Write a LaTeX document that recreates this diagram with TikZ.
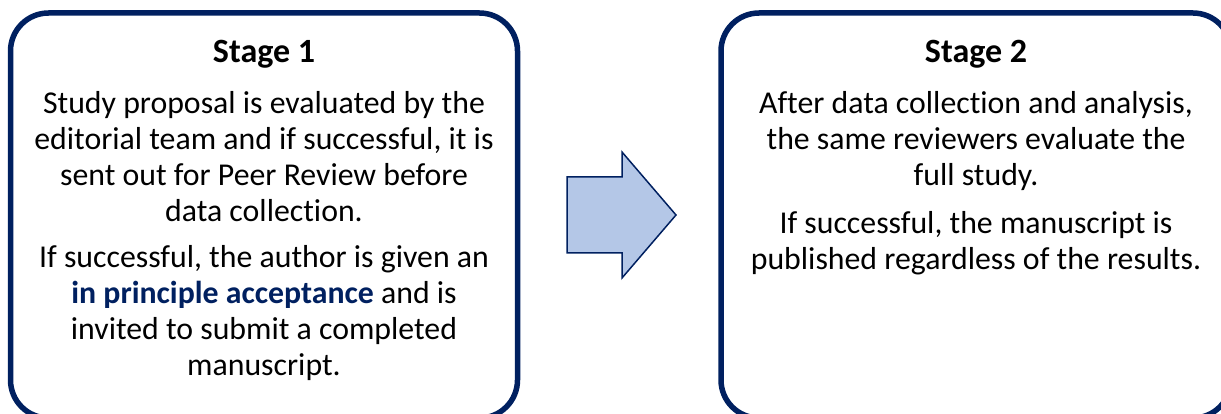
\documentclass[tikz,border=0pt]{standalone}
\usepackage{fontspec}
\setmainfont[Ligatures=NoCommon]{Carlito}
\definecolor{navy}{HTML}{002060}
\definecolor{arrowfill}{HTML}{B4C7E7}
\begin{document}
\begin{tikzpicture}[x=1pt,y=-1pt,
  stagebox/.style={draw=navy,line width=5.5pt,rounded corners=38pt},
  title/.style={anchor=base,inner sep=0pt,font=\bfseries\fontsize{34}{36}\selectfont},
  body/.style={anchor=north,inner sep=0pt,align=center,font=\fontsize{31.8}{36}\selectfont},
  bigarrow/.style={draw=navy,fill=arrowfill,line width=1.5pt,line join=miter}]
\useasboundingbox (0,0) rectangle (1221,414);
\draw[stagebox] (10.5,13) rectangle (517.5,418);
\draw[stagebox] (721,13) rectangle (1231,418);
\node[title] (t1) at (264,63) {Stage 1};
\node[body] (b1) at (264,88.5) {\strut Study proposal is evaluated by the\\
editorial team and if successful, it is\\
sent out for Peer Review before\\
data collection.\\[10pt]
If successful, the author is given an\\
{\bfseries\color{navy}in principle acceptance} and is\\
invited to submit a completed\\
manuscript.};
\node[title] (t2) at (976,63) {Stage 2};
\node[body] (b2) at (976,88.5) {\strut After data collection and analysis,\\
the same reviewers evaluate the\\
full study.\\[12pt]
If successful, the manuscript is\\
published regardless of the results.};
\draw[bigarrow] (567,177) -- (622,177) -- (622,152) -- (676,215) -- (622,278) -- (622,253) -- (567,253) -- cycle;
\end{tikzpicture}
\end{document}
